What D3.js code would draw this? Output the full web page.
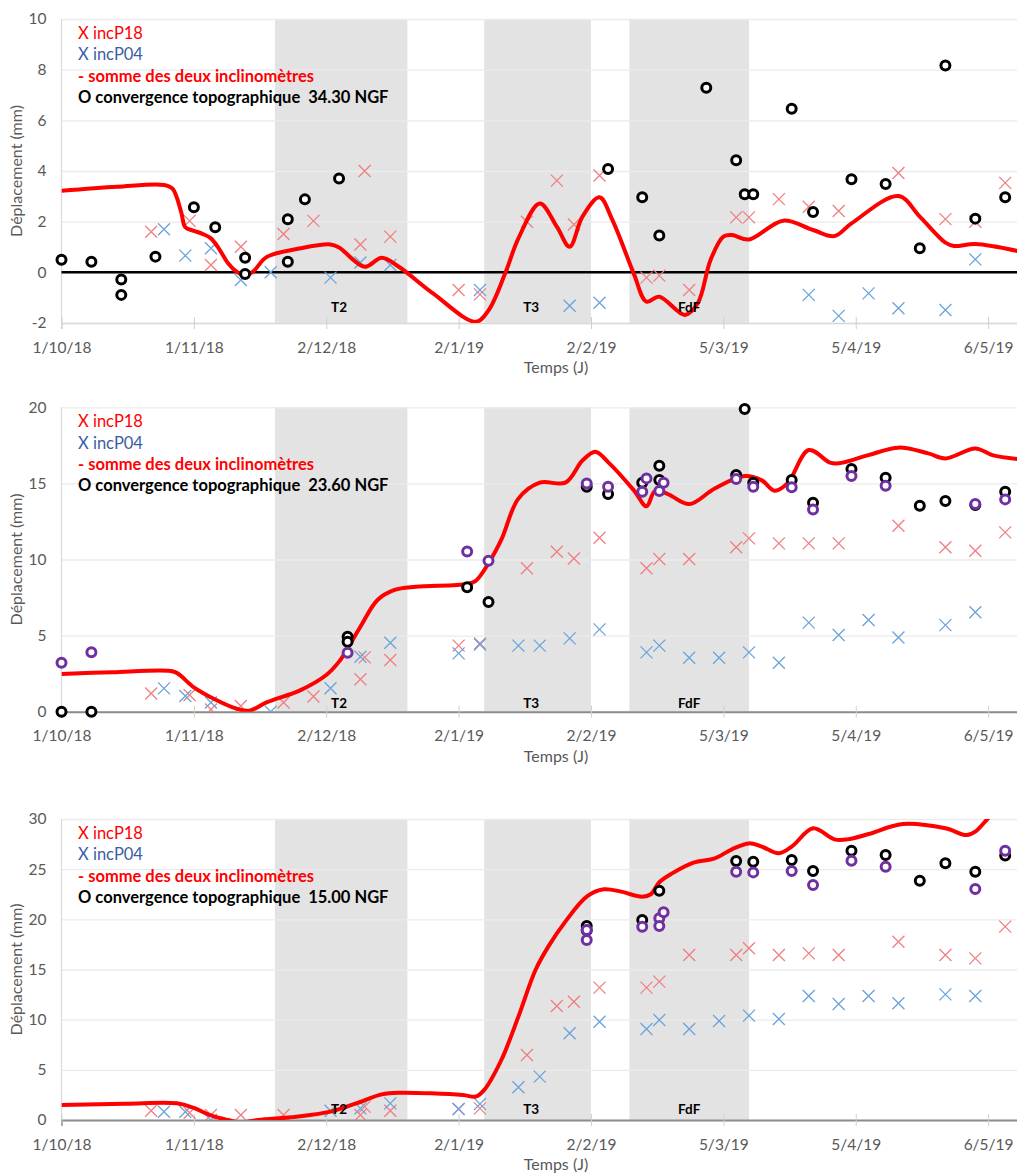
<!DOCTYPE html>
<html>
<head>
<meta charset="utf-8">
<script src="https://cdn.jsdelivr.net/npm/d3@7"></script>
<style>
  body { margin: 0; background: #fff; }
  svg { display: block; font-family: Lato, "Open Sans", sans-serif; }
</style>
</head>
<body>
<svg id="chart" width="1017" height="1174"></svg>
<script>
// ---- Axis ticks (31-day major unit) ----
const tickDates = ["2018-10-01", "2018-11-01", "2018-12-02", "2019-01-02",
                   "2019-02-02", "2019-03-05", "2019-04-05", "2019-05-06"];
const yTicks_3430 = [-2, 0, 2, 4, 6, 8, 10];
const yTicks_2360 = [0, 5, 10, 15, 20];
const yTicks_1500 = [0, 5, 10, 15, 20, 25, 30];

// ---- Work phases ----
const phases = [
  { label: "T2",  start: "2018-11-20", end: "2018-12-21", labelDate: "2018-12-05" },
  { label: "T3",  start: "2019-01-08", end: "2019-02-02", labelDate: "2019-01-19" },
  { label: "FdF", start: "2019-02-11", end: "2019-03-11", labelDate: "2019-02-25" }
];

// ================= Niveau 34.30 NGF =================
const p18_3430 = [
  ["2018-10-22", 1.6], ["2018-10-31", 2.03], ["2018-11-05", 0.29], ["2018-11-12", 1.01],
  ["2018-11-22", 1.51], ["2018-11-29", 2.03], ["2018-12-10", 1.1], ["2018-12-11", 4.0],
  ["2018-12-17", 1.41], ["2019-01-02", -0.7], ["2019-01-07", -0.87], ["2019-01-18", 2.0],
  ["2019-01-25", 3.62], ["2019-01-29", 1.89], ["2019-02-04", 3.82], ["2019-02-15", -0.21],
  ["2019-02-18", -0.13], ["2019-02-25", -0.7], ["2019-03-08", 2.17], ["2019-03-11", 2.17],
  ["2019-03-18", 2.89], ["2019-03-25", 2.59], ["2019-04-01", 2.42], ["2019-04-15", 3.92],
  ["2019-04-26", 2.1], ["2019-05-03", 2.0], ["2019-05-10", 3.53]
];
const p04_3430 = [
  ["2018-10-25", 1.7], ["2018-10-30", 0.66], ["2018-11-05", 0.95], ["2018-11-12", -0.3],
  ["2018-11-19", 0.0], ["2018-12-03", -0.21], ["2018-12-10", 0.39], ["2018-12-17", 0.29],
  ["2019-01-07", -0.7], ["2019-01-28", -1.32], ["2019-02-04", -1.2], ["2019-03-25", -0.89],
  ["2019-04-01", -1.72], ["2019-04-08", -0.83], ["2019-04-15", -1.42], ["2019-04-26", -1.49],
  ["2019-05-03", 0.51]
];
const somme_3430 = [
  ["2018-10-01", 3.22], ["2018-10-14", 3.38], ["2018-10-25", 3.45], ["2018-10-27", 3.3],
  ["2018-10-29", 2.4], ["2018-10-30", 1.78], ["2018-11-01", 1.64], ["2018-11-03", 1.52],
  ["2018-11-05", 1.34], ["2018-11-07", 0.9], ["2018-11-09", 0.36], ["2018-11-11", 0.03],
  ["2018-11-13", -0.12], ["2018-11-15", 0.05], ["2018-11-18", 0.6], ["2018-11-26", 0.95],
  ["2018-12-03", 1.1], ["2018-12-05", 0.98], ["2018-12-11", 0.22], ["2018-12-15", 0.58],
  ["2018-12-19", 0.22], ["2018-12-27", -0.83], ["2019-01-06", -1.95], ["2019-01-09", -1.5],
  ["2019-01-13", 0.0], ["2019-01-16", 1.34], ["2019-01-21", 2.72], ["2019-01-25", 1.8],
  ["2019-01-28", 1.01], ["2019-01-31", 2.2], ["2019-02-04", 2.96], ["2019-02-07", 2.07],
  ["2019-02-12", -0.04], ["2019-02-15", -1.16], ["2019-02-18", -0.96], ["2019-02-24", -1.68],
  ["2019-02-27", -1.22], ["2019-03-02", 0.49], ["2019-03-05", 1.41], ["2019-03-07", 1.47],
  ["2019-03-11", 1.3], ["2019-03-19", 2.04], ["2019-03-26", 1.67], ["2019-03-31", 1.43],
  ["2019-04-04", 1.93], ["2019-04-15", 3.01], ["2019-04-20", 2.2], ["2019-04-26", 1.17],
  ["2019-04-28", 1.04], ["2019-05-03", 1.12], ["2019-05-13", 0.84]
];
const topo_3430 = [
  ["2018-10-01", 0.5], ["2018-10-08", 0.42], ["2018-10-15", -0.28], ["2018-10-15", -0.89],
  ["2018-10-23", 0.62], ["2018-11-01", 2.57], ["2018-11-06", 1.78], ["2018-11-13", 0.58],
  ["2018-11-13", -0.07], ["2018-11-23", 2.1], ["2018-11-23", 0.42], ["2018-11-27", 2.88],
  ["2018-12-05", 3.7], ["2019-02-06", 4.08], ["2019-02-14", 2.96], ["2019-02-18", 1.45],
  ["2019-03-01", 7.29], ["2019-03-08", 4.42], ["2019-03-10", 3.08], ["2019-03-12", 3.08],
  ["2019-03-21", 6.46], ["2019-03-26", 2.38], ["2019-04-04", 3.67], ["2019-04-12", 3.49],
  ["2019-04-20", 0.95], ["2019-04-26", 8.16], ["2019-05-03", 2.12], ["2019-05-10", 2.96]
];
const topoBis_3430 = [];

// ================= Niveau 23.60 NGF =================
const p18_2360 = [
  ["2018-10-22", 1.2], ["2018-10-31", 1.1], ["2018-11-05", 0.15], ["2018-11-12", 0.37],
  ["2018-11-22", 0.61], ["2018-11-29", 1.0], ["2018-12-10", 2.13], ["2018-12-11", 3.57],
  ["2018-12-17", 3.4], ["2019-01-02", 4.34], ["2019-01-07", 4.49], ["2019-01-18", 9.42],
  ["2019-01-25", 10.51], ["2019-01-29", 10.07], ["2019-02-04", 11.43], ["2019-02-15", 9.42],
  ["2019-02-18", 10.03], ["2019-02-25", 10.03], ["2019-03-08", 10.8], ["2019-03-11", 11.39],
  ["2019-03-18", 11.06], ["2019-03-25", 11.06], ["2019-04-01", 11.06], ["2019-04-15", 12.22],
  ["2019-04-26", 10.8], ["2019-05-03", 10.58], ["2019-05-10", 11.78]
];
const p04_2360 = [
  ["2018-10-25", 1.53], ["2018-10-30", 1.03], ["2018-11-05", 0.6], ["2018-11-19", 0.0],
  ["2018-12-03", 1.54], ["2018-12-10", 3.61], ["2018-12-17", 4.53], ["2019-01-02", 3.83],
  ["2019-01-07", 4.42], ["2019-01-16", 4.34], ["2019-01-21", 4.34], ["2019-01-28", 4.82],
  ["2019-02-04", 5.41], ["2019-02-15", 3.9], ["2019-02-18", 4.34], ["2019-02-25", 3.55],
  ["2019-03-04", 3.55], ["2019-03-11", 3.9], ["2019-03-18", 3.22], ["2019-03-25", 5.85],
  ["2019-04-01", 5.04], ["2019-04-08", 6.02], ["2019-04-15", 4.88], ["2019-04-26", 5.69],
  ["2019-05-03", 6.53]
];
const somme_2360 = [
  ["2018-10-01", 2.47], ["2018-10-13", 2.6], ["2018-10-26", 2.69], ["2018-10-28", 2.55],
  ["2018-11-01", 1.6], ["2018-11-06", 0.8], ["2018-11-11", 0.2], ["2018-11-14", 0.07],
  ["2018-11-18", 0.61], ["2018-11-26", 1.42], ["2018-12-02", 2.41], ["2018-12-05", 3.29],
  ["2018-12-07", 4.16], ["2018-12-10", 5.58], ["2018-12-14", 7.34], ["2018-12-18", 8.0],
  ["2018-12-23", 8.21], ["2019-01-04", 8.39], ["2019-01-06", 8.6], ["2019-01-09", 9.75],
  ["2019-01-12", 11.3], ["2019-01-16", 14.0], ["2019-01-21", 15.05], ["2019-01-27", 15.05],
  ["2019-01-31", 16.5], ["2019-02-03", 17.08], ["2019-02-06", 16.4], ["2019-02-12", 14.56],
  ["2019-02-15", 13.5], ["2019-02-17", 14.5], ["2019-02-20", 14.3], ["2019-02-25", 13.64],
  ["2019-03-03", 14.67], ["2019-03-10", 15.48], ["2019-03-14", 15.2], ["2019-03-17", 14.52],
  ["2019-03-20", 15.0], ["2019-03-25", 17.19], ["2019-03-30", 16.36], ["2019-04-01", 16.32],
  ["2019-04-08", 16.86], ["2019-04-15", 17.35], ["2019-04-22", 16.97], ["2019-04-26", 16.64],
  ["2019-05-03", 17.3], ["2019-05-07", 16.86], ["2019-05-13", 16.6]
];
const topo_2360 = [
  ["2018-10-01", 0.0], ["2018-10-08", 0.0], ["2018-12-07", 4.93], ["2018-12-07", 4.6],
  ["2019-01-04", 8.17], ["2019-01-09", 7.2], ["2019-02-01", 14.78], ["2019-02-06", 14.3],
  ["2019-02-14", 15.05], ["2019-02-18", 16.16], ["2019-02-18", 15.22], ["2019-03-08", 15.55],
  ["2019-03-10", 19.89], ["2019-03-12", 15.05], ["2019-03-21", 15.22], ["2019-03-26", 13.73],
  ["2019-04-04", 15.94], ["2019-04-12", 15.37], ["2019-04-20", 13.53], ["2019-04-26", 13.84],
  ["2019-05-03", 13.58], ["2019-05-10", 14.45]
];
const topoBis_2360 = [
  ["2018-10-01", 3.22], ["2018-10-08", 3.9], ["2018-12-07", 3.88], ["2019-01-04", 10.53],
  ["2019-01-09", 9.92], ["2019-02-01", 15.0], ["2019-02-06", 14.78], ["2019-02-14", 14.45],
  ["2019-02-15", 15.33], ["2019-02-18", 14.5], ["2019-02-19", 15.05], ["2019-03-08", 15.29],
  ["2019-03-12", 14.78], ["2019-03-21", 14.74], ["2019-03-26", 13.29], ["2019-04-04", 15.48],
  ["2019-04-12", 14.85], ["2019-05-03", 13.64], ["2019-05-10", 13.95]
];

// ================= Niveau 15.00 NGF =================
const p18_1500 = [
  ["2018-10-22", 0.93], ["2018-10-31", 0.73], ["2018-11-05", 0.5], ["2018-11-12", 0.5],
  ["2018-11-22", 0.5], ["2018-12-10", 0.5], ["2018-12-11", 1.33], ["2018-12-17", 0.93],
  ["2019-01-02", 1.1], ["2019-01-07", 1.16], ["2019-01-18", 6.48], ["2019-01-25", 11.36],
  ["2019-01-29", 11.79], ["2019-02-04", 13.19], ["2019-02-15", 13.19], ["2019-02-18", 13.79],
  ["2019-02-25", 16.45], ["2019-03-08", 16.45], ["2019-03-11", 17.11], ["2019-03-18", 16.45],
  ["2019-03-25", 16.61], ["2019-04-01", 16.45], ["2019-04-15", 17.77], ["2019-04-26", 16.45],
  ["2019-05-03", 16.11], ["2019-05-10", 19.27]
];
const p04_1500 = [
  ["2018-10-25", 0.83], ["2018-10-30", 0.83], ["2018-11-05", 0.0], ["2018-12-03", 0.93],
  ["2018-12-10", 1.16], ["2018-12-17", 1.66], ["2019-01-02", 1.1], ["2019-01-07", 1.6],
  ["2019-01-16", 3.26], ["2019-01-21", 4.32], ["2019-01-28", 8.64], ["2019-02-04", 9.8],
  ["2019-02-15", 9.07], ["2019-02-18", 9.97], ["2019-02-25", 9.07], ["2019-03-04", 9.87],
  ["2019-03-11", 10.4], ["2019-03-18", 10.07], ["2019-03-25", 12.36], ["2019-04-01", 11.56],
  ["2019-04-08", 12.36], ["2019-04-15", 11.63], ["2019-04-26", 12.52], ["2019-05-03", 12.36]
];
const somme_1500 = [
  ["2018-10-01", 1.5], ["2018-10-16", 1.62], ["2018-10-28", 1.66], ["2018-11-01", 1.2],
  ["2018-11-05", 0.45], ["2018-11-09", 0.0], ["2018-11-12", -0.25], ["2018-11-16", 0.0],
  ["2018-11-25", 0.33], ["2018-12-03", 0.83], ["2018-12-09", 1.66], ["2018-12-15", 2.55],
  ["2018-12-19", 2.72], ["2019-01-03", 2.49], ["2019-01-06", 2.33], ["2019-01-08", 3.0],
  ["2019-01-12", 5.98], ["2019-01-16", 10.3], ["2019-01-20", 14.95], ["2019-01-23", 17.28],
  ["2019-01-27", 19.77], ["2019-02-01", 22.26], ["2019-02-05", 22.99], ["2019-02-09", 22.76],
  ["2019-02-14", 22.26], ["2019-02-16", 22.5], ["2019-02-18", 23.7], ["2019-02-21", 24.58],
  ["2019-02-26", 25.65], ["2019-03-03", 26.08], ["2019-03-07", 26.98], ["2019-03-11", 27.57],
  ["2019-03-14", 27.24], ["2019-03-18", 26.58], ["2019-03-21", 27.24], ["2019-03-26", 29.07],
  ["2019-03-31", 27.97], ["2019-04-03", 27.97], ["2019-04-08", 28.5], ["2019-04-16", 29.5],
  ["2019-04-26", 29.07], ["2019-05-01", 28.4], ["2019-05-03", 28.74], ["2019-05-06", 30.07],
  ["2019-05-10", 31.8], ["2019-05-13", 33.0]
];
const topo_1500 = [
  ["2019-02-01", 19.34], ["2019-02-01", 18.9], ["2019-02-14", 19.93], ["2019-02-18", 22.86],
  ["2019-03-08", 25.81], ["2019-03-12", 25.75], ["2019-03-21", 25.91], ["2019-03-26", 24.82],
  ["2019-04-04", 26.84], ["2019-04-12", 26.41], ["2019-04-20", 23.85], ["2019-04-26", 25.58],
  ["2019-05-03", 24.75], ["2019-05-10", 26.35]
];
const topoBis_1500 = [
  ["2019-02-01", 18.94], ["2019-02-01", 17.94], ["2019-02-14", 19.27], ["2019-02-18", 20.1],
  ["2019-02-18", 19.34], ["2019-02-19", 20.7], ["2019-03-08", 24.75], ["2019-03-12", 24.68],
  ["2019-03-21", 24.82], ["2019-03-26", 23.42], ["2019-04-04", 25.85], ["2019-04-12", 25.25],
  ["2019-05-03", 23.02], ["2019-05-10", 26.84]
];

// ---- Panel layout ----
const panels = [
  { niveau: "34.30", top: 19, bottom: 323, yTicks: yTicks_3430, zeroLine: true, axisColor: "#d9d9d9", phaseLabelY: -1.55,
    p18: p18_3430, p04: p04_3430, somme: somme_3430, topo: topo_3430, topoBis: topoBis_3430 },
  { niveau: "23.60", top: 407.3, bottom: 711.7, yTicks: yTicks_2360, zeroLine: false, axisColor: "#8c8c8c", phaseLabelY: 0.25,
    p18: p18_2360, p04: p04_2360, somme: somme_2360, topo: topo_2360, topoBis: topoBis_2360 },
  { niveau: "15.00", top: 819, bottom: 1120, yTicks: yTicks_1500, zeroLine: false, axisColor: "#8c8c8c", phaseLabelY: 0.6,
    p18: p18_1500, p04: p04_1500, somme: somme_1500, topo: topo_1500, topoBis: topoBis_1500 }
];

const parse = d3.timeParse("%Y-%m-%d");
const fmt = d3.timeFormat("%-d/%-m/%y");
const left = 61.5, right = 1018;
const x = d3.scaleTime()
  .domain([parse("2018-10-01"), parse("2019-05-13")])
  .range([left, right]);

const svg = d3.select("#chart");
const FONT = "Lato, 'Open Sans', sans-serif";
const colP18 = "#f07f82", colP04 = "#6aa4db", colLine = "#ff0000";

panels.forEach((p, i) => {
  const y = d3.scaleLinear().domain(d3.extent(p.yTicks)).range([p.bottom, p.top]);
  const g = svg.append("g");

  g.append("clipPath").attr("id", "clip" + i)
    .append("rect").attr("x", left).attr("y", p.top)
    .attr("width", right - left).attr("height", p.bottom - p.top);

  // phase bands
  g.selectAll(".band").data(phases).join("rect")
    .attr("x", d => x(parse(d.start)))
    .attr("width", d => x(parse(d.end)) - x(parse(d.start)))
    .attr("y", p.top).attr("height", p.bottom - p.top)
    .attr("fill", "#e3e3e3");

  // horizontal grid + y labels
  g.append("g").attr("transform", `translate(${left},0)`)
    .call(d3.axisLeft(y).tickValues(p.yTicks).tickFormat(d => String(d))
      .tickSize(-(right - left)).tickPadding(15))
    .call(a => {
      a.select(".domain").remove();
      a.selectAll(".tick line").attr("stroke", "#ebebeb").attr("stroke-width", 1.3);
      a.selectAll(".tick text").attr("fill", "#595959");
    })
    .attr("font-size", 15.5).attr("font-family", FONT);

  // left axis line
  g.append("line").attr("x1", left).attr("x2", left)
    .attr("y1", p.top).attr("y2", p.bottom)
    .attr("stroke", "#d9d9d9").attr("stroke-width", 1.2);

  // x axis
  g.append("g").attr("transform", `translate(0,${p.bottom})`)
    .call(d3.axisBottom(x).tickValues(tickDates.map(parse)).tickFormat(fmt)
      .tickSizeOuter(0).tickSize(6))
    .call(a => {
      a.select(".domain").attr("stroke", p.axisColor).attr("stroke-width", p.zeroLine ? 1.5 : 2);
      a.selectAll(".tick line").attr("y1", -6).attr("y2", 6).attr("stroke", "#d0d0d0");
      a.selectAll(".tick text").attr("y", 29.5).attr("dy", 0).attr("fill", "#595959");
    })
    .attr("font-size", 15.5).attr("font-family", FONT);

  if (p.zeroLine) {
    g.append("line").attr("x1", left).attr("x2", right)
      .attr("y1", y(0)).attr("y2", y(0))
      .attr("stroke", "#000").attr("stroke-width", 2.5);
  }

  const cross = "M-6,-6L6,6M-6,6L6,-6";
  const plotArea = g.append("g").attr("clip-path", `url(#clip${i})`);

  plotArea.selectAll(".p18").data(p.p18).join("path")
    .attr("d", cross)
    .attr("transform", d => `translate(${x(parse(d[0]))},${y(d[1])})`)
    .attr("stroke", colP18).attr("stroke-width", 1.3).attr("fill", "none");

  plotArea.selectAll(".p04").data(p.p04).join("path")
    .attr("d", cross)
    .attr("transform", d => `translate(${x(parse(d[0]))},${y(d[1])})`)
    .attr("stroke", colP04).attr("stroke-width", 1.3).attr("fill", "none");

  g.selectAll(".topo").data(p.topo).join("circle")
    .attr("cx", d => x(parse(d[0]))).attr("cy", d => y(d[1])).attr("r", 4.5)
    .attr("fill", "#fff").attr("stroke", "#000").attr("stroke-width", 3);

  const line = d3.line()
    .x(d => x(parse(d[0]))).y(d => y(d[1]))
    .curve(d3.curveCatmullRom.alpha(0.5));
  plotArea.append("path").datum(p.somme)
    .attr("d", line).attr("fill", "none")
    .attr("stroke", colLine).attr("stroke-width", 4).attr("stroke-linejoin", "round");

  g.selectAll(".topoBis").data(p.topoBis).join("circle")
    .attr("cx", d => x(parse(d[0]))).attr("cy", d => y(d[1])).attr("r", 4.5)
    .attr("fill", "#fff").attr("stroke", "#7030a0").attr("stroke-width", 3);

  // phase labels
  g.selectAll(".phase").data(phases).join("text")
    .attr("x", d => x(parse(d.labelDate))).attr("y", y(p.phaseLabelY))
    .attr("text-anchor", "middle").attr("font-family", FONT)
    .attr("font-size", 13.5).attr("font-weight", "bold").attr("fill", "#000")
    .text(d => d.label);

  // legend
  const legend = [
    { t: "X incP18", c: "#ff0000", w: "normal" },
    { t: "X incP04", c: "#3a5da6", w: "normal" },
    { t: "- somme des deux inclinomètres", c: "#ff0000", w: "bold" },
    { t: `O convergence topographique  ${p.niveau} NGF`, c: "#000", w: "bold" }
  ];
  g.selectAll(".leg").data(legend).join("text")
    .attr("x", 78).attr("y", (d, k) => p.top + 20 + k * 21.3)
    .attr("font-family", FONT).attr("font-size", 16.5)
    .attr("font-weight", d => d.w).attr("fill", d => d.c)
    .style("white-space", "pre")
    .text(d => d.t);

  // axis titles
  g.append("text")
    .attr("transform", `translate(22,${(p.top + p.bottom) / 2}) rotate(-90)`)
    .attr("text-anchor", "middle").attr("font-family", FONT)
    .attr("font-size", 16).attr("fill", "#595959")
    .text("Déplacement (mm)");
  g.append("text")
    .attr("x", 556).attr("y", p.bottom + 50)
    .attr("text-anchor", "middle").attr("font-family", FONT)
    .attr("font-size", 16).attr("fill", "#595959")
    .text("Temps (J)");
});
</script>
</body>
</html>
